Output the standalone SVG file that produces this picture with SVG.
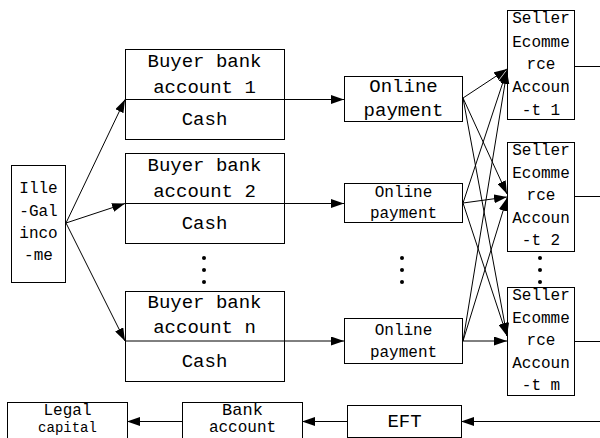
<svg xmlns="http://www.w3.org/2000/svg" width="600" height="438" viewBox="0 0 600 438">
  <style>
    .box { fill: #ffffff; stroke: #000000; stroke-width: 1; }
    .ln { fill: none; stroke: #000000; stroke-width: 1; }
    text { font-family: "Liberation Mono", "DejaVu Sans Mono", monospace; fill: #000000; text-anchor: middle; }
    .t19 { font-size: 19px; }
    .t17 { font-size: 17px; }
    .t16 { font-size: 16px; }
    .t14 { font-size: 14px; }
  </style>
  <defs>
    <marker id="arrow" markerWidth="13" markerHeight="9" refX="13" refY="4.5" orient="auto" markerUnits="userSpaceOnUse">
      <path d="M0,0 L13,4.5 L0,9 Z" fill="#000000"/>
    </marker>
  </defs>
  <rect width="600" height="438" fill="#ffffff"/>

  <!-- source of funds -->
  <g id="illegal-income">
    <rect class="box" x="11.5" y="165.5" width="54" height="117"/>
    <text class="t16" x="38.5" y="193">Ille</text>
    <text class="t16" x="38.5" y="216">-Gal</text>
    <text class="t16" x="38.5" y="238">inco</text>
    <text class="t16" x="38.5" y="260">-me</text>
  </g>

  <!-- buyer bank accounts -->
  <g id="buyer-account-1">
    <rect class="box" x="125.5" y="49.5" width="159" height="90"/>
    <line class="ln" x1="125" y1="99.5" x2="284" y2="99.5"/>
    <text class="t19" x="204.5" y="67">Buyer bank</text>
    <text class="t19" x="204.5" y="93">account 1</text>
    <text class="t19" x="204.5" y="125">Cash</text>
  </g>
  <g id="buyer-account-2">
    <rect class="box" x="125.5" y="153.5" width="159" height="90"/>
    <line class="ln" x1="125" y1="203.5" x2="284" y2="203.5"/>
    <text class="t19" x="204.5" y="171">Buyer bank</text>
    <text class="t19" x="204.5" y="197">account 2</text>
    <text class="t19" x="204.5" y="229">Cash</text>
  </g>
  <g id="buyer-dots">
    <circle cx="204" cy="258" r="2"/>
    <circle cx="204" cy="270" r="2"/>
    <circle cx="204" cy="282" r="2"/>
  </g>
  <g id="buyer-account-n">
    <rect class="box" x="125.5" y="291.5" width="159" height="90"/>
    <line class="ln" x1="125" y1="341" x2="284" y2="341" stroke-width="2"/>
    <text class="t19" x="204.5" y="308">Buyer bank</text>
    <text class="t19" x="204.5" y="333">account n</text>
    <text class="t19" x="204.5" y="367">Cash</text>
  </g>

  <!-- online payments -->
  <g id="online-payment-1">
    <rect class="box" x="344.5" y="76.5" width="118" height="45"/>
    <text class="t19" x="403.5" y="92">Online</text>
    <text class="t19" x="403.5" y="116">payment</text>
  </g>
  <g id="online-payment-2">
    <rect class="box" x="344.5" y="183.5" width="118" height="39"/>
    <text class="t16" x="403.5" y="197">Online</text>
    <text class="t16" x="403.5" y="218">payment</text>
  </g>
  <g id="online-dots">
    <circle cx="402" cy="258" r="2"/>
    <circle cx="402" cy="270" r="2"/>
    <circle cx="402" cy="282" r="2"/>
  </g>
  <g id="online-payment-3">
    <rect class="box" x="344.5" y="318.5" width="118" height="45"/>
    <text class="t16" x="403.5" y="335">Online</text>
    <text class="t16" x="403.5" y="357">payment</text>
  </g>

  <!-- seller ecommerce accounts -->
  <g id="seller-account-1">
    <rect class="box" x="507.5" y="10.5" width="67" height="109"/>
    <text class="t16" x="541" y="23">Seller</text>
    <text class="t16" x="541" y="47">Ecomme</text>
    <text class="t16" x="541" y="69">rce</text>
    <text class="t16" x="541" y="92">Accoun</text>
    <text class="t16" x="541" y="115">-t 1</text>
  </g>
  <g id="seller-account-2">
    <rect class="box" x="507.5" y="142.5" width="67" height="109"/>
    <text class="t16" x="541" y="155">Seller</text>
    <text class="t16" x="541" y="178">Ecomme</text>
    <text class="t16" x="541" y="200">rce</text>
    <text class="t16" x="541" y="223">Accoun</text>
    <text class="t16" x="541" y="245">-t 2</text>
  </g>
  <g id="seller-dots">
    <circle cx="540" cy="258" r="2"/>
    <circle cx="540" cy="270" r="2"/>
    <circle cx="540" cy="282" r="2"/>
  </g>
  <g id="seller-account-m">
    <rect class="box" x="507.5" y="287.5" width="67" height="108"/>
    <text class="t16" x="541" y="300">Seller</text>
    <text class="t16" x="541" y="323">Ecomme</text>
    <text class="t16" x="541" y="345">rce</text>
    <text class="t16" x="541" y="368">Accoun</text>
    <text class="t16" x="541" y="390">-t m</text>
  </g>

  <!-- return path -->
  <g id="legal-capital">
    <rect class="box" x="7.5" y="402.5" width="120" height="40"/>
    <text class="t16" x="67.5" y="415">Legal</text>
    <text class="t14" x="67.5" y="432">capital</text>
  </g>
  <g id="bank-account">
    <rect class="box" x="182.5" y="402.5" width="120" height="40"/>
    <text class="t17" x="242.5" y="415">Bank</text>
    <text class="t16" x="242.5" y="432">account</text>
  </g>
  <g id="eft">
    <rect class="box" x="347.5" y="405.5" width="114" height="32"/>
    <text class="t19" x="404.5" y="427">EFT</text>
  </g>

  <g id="connectors" class="ln" marker-end="url(#arrow)">
    <!-- income split across buyer accounts -->
    <line x1="66" y1="223" x2="125" y2="99.5"/>
    <line x1="66" y1="223" x2="125" y2="203.5"/>
    <line x1="66" y1="223" x2="125" y2="341"/>
    <!-- buyer accounts to online payments -->
    <line x1="284" y1="99.5" x2="344" y2="99.5"/>
    <line x1="284" y1="203.5" x2="344" y2="203.5"/>
    <line x1="284" y1="341" x2="344" y2="341"/>
    <!-- online payments fan out to every seller account -->
    <line x1="463" y1="98" x2="507" y2="69"/>
    <line x1="463" y1="98" x2="507" y2="194"/>
    <line x1="463" y1="98" x2="507" y2="336"/>
    <line x1="463" y1="203" x2="507" y2="70"/>
    <line x1="463" y1="203" x2="507" y2="197"/>
    <line x1="463" y1="203" x2="507" y2="336"/>
    <line x1="463" y1="341" x2="507" y2="71"/>
    <line x1="463" y1="341" x2="507" y2="198"/>
    <line x1="463" y1="341" x2="507" y2="341"/>
    <!-- funds returned -->
    <line x1="600" y1="421.5" x2="461" y2="421.5"/>
    <line x1="347" y1="421.5" x2="302" y2="421.5"/>
    <line x1="182" y1="421.5" x2="127" y2="421.5"/>
  </g>
  <g id="seller-outlets" class="ln">
    <line x1="574" y1="66.5" x2="600" y2="66.5"/>
    <line x1="574" y1="196.5" x2="600" y2="196.5"/>
    <line x1="574" y1="341.5" x2="600" y2="341.5"/>
  </g>
</svg>
